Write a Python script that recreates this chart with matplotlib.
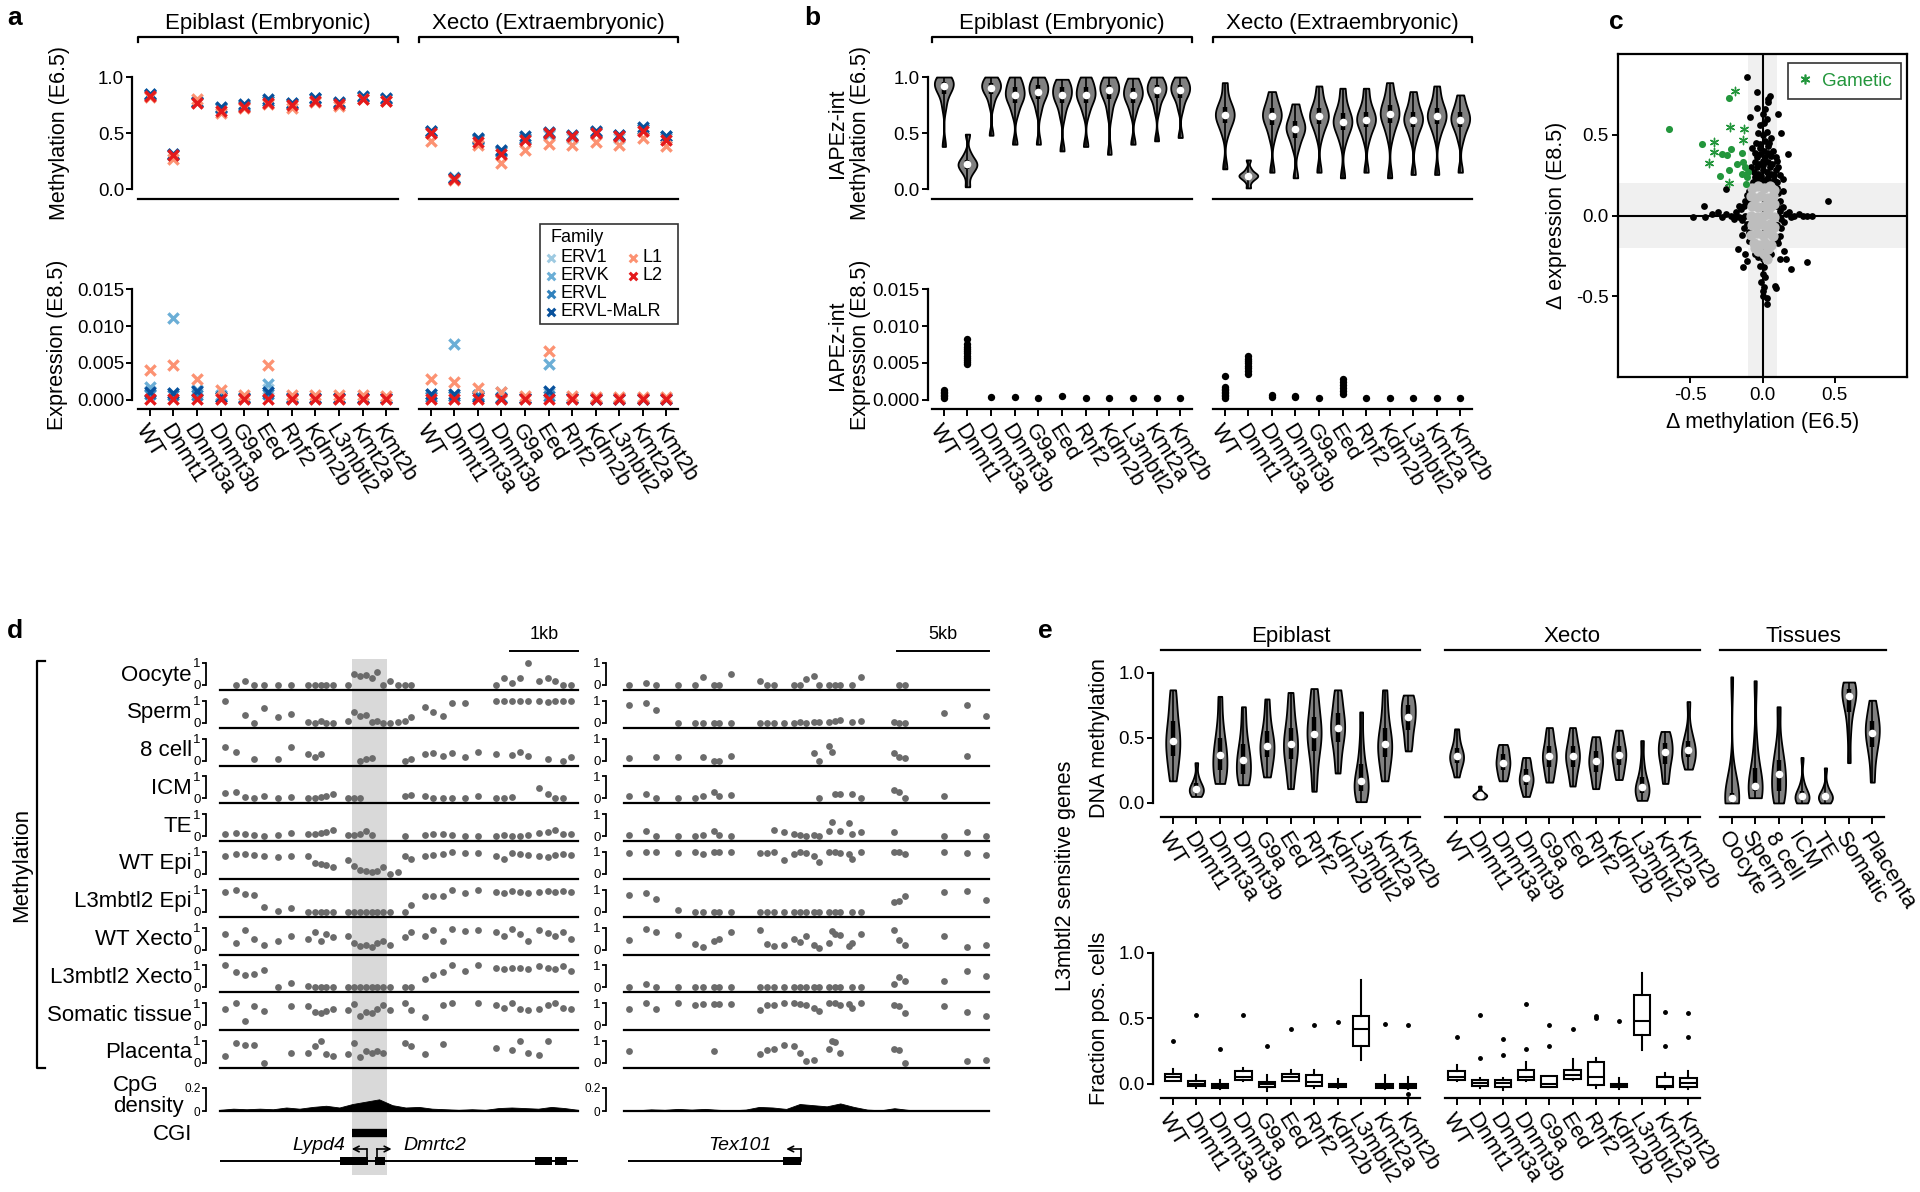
import numpy as np
import matplotlib
matplotlib.use("Agg")
import matplotlib.pyplot as plt
from matplotlib.patches import Rectangle
from matplotlib.lines import Line2D

plt.rcParams['font.family'] = ['Liberation Sans', 'DejaVu Sans']
plt.rcParams['axes.linewidth'] = 1.6
plt.rcParams['xtick.major.width'] = 1.4
plt.rcParams['ytick.major.width'] = 1.4
plt.rcParams['xtick.major.size'] = 4
plt.rcParams['ytick.major.size'] = 4
plt.rcParams['xtick.major.pad'] = 2
plt.rcParams['ytick.major.pad'] = 2

NA = np.nan

# ---------------- categories ----------------
mutants = ['WT', 'Dnmt1', 'Dnmt3a', 'Dnmt3b', 'G9a', 'Eed', 'Rnf2', 'Kdm2b', 'L3mbtl2', 'Kmt2a', 'Kmt2b']
tissues = ['Oocyte', 'Sperm', '8 cell', 'ICM', 'TE', 'Somatic', 'Placenta']

# ---------------- panel a: repeat families (Epi 11 values, then Xecto 11) ----------------
families = ['ERV1', 'ERVK', 'ERVL', 'ERVL-MaLR', 'L1', 'L2']
family_colors = ['#9ecae1', '#6baed6', '#3182bd', '#08519c', '#fc9272', '#e41a1c']

meth_ERV1 = [.84, .31, .79, .72, .75, .79, .76, .81, .77, .82, .80, .52, .11, .44, .34, .46, .48, .46, .50, .46, .54, .46]
meth_ERVK = [.85, .31, .78, .72, .75, .79, .77, .80, .77, .82, .80, .52, .10, .45, .33, .46, .49, .47, .51, .47, .54, .46]
meth_ERVL = [.84, .30, .78, .72, .74, .79, .76, .81, .77, .82, .80, .51, .10, .45, .34, .45, .50, .47, .51, .48, .54, .47]
meth_MaLR = [.85, .31, .78, .73, .76, .80, .77, .81, .78, .83, .81, .52, .10, .46, .35, .47, .51, .48, .52, .48, .55, .47]
meth_L1 = [.82, .27, .80, .68, .72, .76, .72, .78, .74, .80, .79, .43, .08, .39, .23, .35, .40, .39, .42, .39, .46, .38]
meth_L2 = [.83, .30, .77, .70, .73, .77, .75, .79, .76, .80, .79, .50, .09, .42, .31, .44, .50, .47, .50, .47, .52, .44]

expr_ERV1 = [.0012, .0009, .0010, .0005, .0003, .0015, .0003, .0002, .0002, .0002, .0002,
             .0005, .0006, .0004, .0004, .0002, .0010, .0002, .0002, .0002, .0002, .0002]
expr_ERVK = [.0018, .0111, .0013, .0007, .0004, .0021, .0004, .0003, .0003, .0003, .0003,
             .0008, .0076, .0005, .0011, .0003, .0048, .0003, .0002, .0002, .0002, .0002]
expr_ERVL = [.0008, .0007, .0007, .0004, .0002, .0008, .0002, .0002, .0002, .0002, .0002,
             .0004, .0005, .0007, .0003, .0002, .0006, .0002, .0001, .0001, .0001, .0001]
expr_MaLR = [.0011, .0010, .0012, .0004, .0002, .0011, .0002, .0002, .0002, .0002, .0002,
             .0008, .0008, .0004, .0003, .0002, .0012, .0002, .0001, .0001, .0001, .0001]
expr_L1 = [.0041, .0047, .0029, .0014, .0007, .0047, .0007, .0007, .0007, .0007, .0006,
           .0028, .0024, .0016, .0011, .0005, .0066, .0006, .0004, .0004, .0004, .0004]
expr_L2 = [.0001] * 22

# ---------------- panel b: IAPEz-int ----------------
iap_meth_epi = [
    [.38, .74, .85, .89, .92, .94, .96, .98, 1.0],
    [.02, .13, .18, .20, .22, .24, .26, .32, .49],
    [.48, .76, .85, .88, .90, .92, .95, .98, 1.0],
    [.40, .68, .77, .81, .84, .87, .91, .96, 1.0],
    [.40, .70, .80, .84, .87, .90, .93, .97, 1.0],
    [.34, .66, .77, .81, .84, .87, .91, .95, .98],
    [.38, .68, .77, .81, .84, .87, .91, .96, 1.0],
    [.31, .68, .80, .85, .88, .90, .93, .97, 1.0],
    [.40, .68, .77, .81, .84, .87, .90, .95, .99],
    [.43, .71, .81, .85, .88, .90, .93, .97, 1.0],
    [.46, .72, .81, .85, .88, .90, .93, .97, 1.0]]
iap_meth_xecto = [
    [.18, .50, .59, .63, .66, .69, .73, .80, .95],
    [.01, .07, .10, .11, .12, .13, .14, .18, .26],
    [.15, .47, .57, .62, .65, .68, .72, .78, .87],
    [.10, .37, .46, .51, .54, .57, .61, .67, .76],
    [.15, .48, .58, .62, .65, .68, .72, .80, .92],
    [.10, .43, .53, .57, .60, .63, .68, .76, .90],
    [.15, .45, .55, .59, .62, .65, .69, .77, .90],
    [.10, .48, .59, .64, .67, .70, .75, .83, .95],
    [.13, .45, .55, .59, .62, .65, .69, .77, .87],
    [.13, .48, .58, .62, .65, .68, .72, .80, .92],
    [.15, .45, .55, .59, .62, .65, .69, .75, .84]]
iap_expr_epi = [
    [.0003, .0005, .0007, .0009, .0011, .0014],
    [.0048, .0051, .0054, .0057, .0060, .0063, .0066, .0069, .0072, .0076, .0082],
    [.0004], [.0004], [.0003], [.0005], [.0003], [.0003], [.0003], [.0003], [.0003]]
iap_expr_xecto = [
    [.0003, .0005, .0007, .0009, .0011, .0013, .0015, .0017, .0032],
    [.0035, .0039, .0043, .0046, .0050, .0053, .0056, .0060],
    [.0004, .0007], [.0004, .0006], [.0003],
    [.0008, .0012, .0016, .0020, .0024, .0028],
    [.0003], [.0003], [.0003], [.0003], [.0003]]

# ---------------- panel c: delta methylation vs delta expression ----------------
c_black_x = [-0.104, -0.035, -0.04, -0.088, 0.108, 0.131, 0.177, 0.143, 0.456, 0.311, 0.196, -0.406, -0.256, -0.48,
             -0.168, -0.134, -0.106, 0.028, 0.085, 0.005, 0.12, 0.15, 0.05, 0.04, 0.035, -0.12, 0.09, 0.16,
             -0.065, -0.04, -0.01, 0.02, 0.05, 0.08, 0.10, -0.06, -0.03, 0.0, 0.03, 0.06, 0.09, 0.12,
             -0.055, -0.025, 0.005, 0.035, 0.065, 0.10, -0.05, -0.02, 0.01, 0.04, 0.07,
             -0.045, -0.015, 0.015, 0.045, -0.03, 0.0, 0.03, 0.06, -0.02, 0.01, 0.03, 0.0, 0.02,
             -0.07, 0.09, -0.08, 0.11,
             -0.055, -0.01, 0.035, 0.08, -0.04, 0.0, 0.05, -0.035, 0.02, 0.06, -0.02, 0.04,
             -0.40, -0.35, -0.31, -0.28, -0.25, -0.22, -0.20, -0.18, -0.16, -0.15, -0.14, -0.13, -0.12, -0.11,
             -0.12, -0.13, -0.11, -0.14, -0.16,
             0.11, 0.12, 0.13, 0.14, 0.15, 0.16, 0.18, 0.20, 0.22, 0.25, 0.28, 0.31, 0.34, 0.12, 0.13, 0.11,
             0.12, 0.14, 0.11,
             -0.04, -0.02, 0.0, 0.02, 0.04, -0.03, 0.0, 0.03, -0.02, 0.01, 0.0, 0.02, -0.01, 0.01, 0.0, 0.03,
             -0.05, 0.06, -0.09, -0.09, -0.09, -0.09, 0.10, 0.10, 0.10, 0.10]
c_black_y = [0.86, 0.767, 0.667, 0.61, 0.628, 0.508, 0.378, 0.229, 0.087, -0.289, -0.33, 0.06, 0.165, -0.008,
             -0.21, -0.32, -0.28, -0.55, -0.434, -0.50, -0.27, -0.22, 0.74, 0.72, 0.70, -0.24, -0.45, -0.27,
             0.21, 0.23, 0.21, 0.22, 0.21, 0.22, 0.21, 0.27, 0.26, 0.28, 0.27, 0.26, 0.28, 0.25,
             0.33, 0.32, 0.34, 0.33, 0.32, 0.34, 0.39, 0.38, 0.40, 0.39, 0.40,
             0.45, 0.44, 0.46, 0.45, 0.51, 0.50, 0.52, 0.48, 0.56, 0.57, 0.60, 0.63, 0.66,
             0.42, 0.36, 0.30, 0.30,
             0.24, 0.245, 0.24, 0.25, 0.30, 0.31, 0.30, 0.36, 0.365, 0.37, 0.42, 0.43,
             -0.01, 0.01, 0.02, -0.01, 0.01, 0.0, -0.02, 0.02, -0.01, 0.04, -0.03, 0.06, 0.0, -0.05,
             0.09, -0.08, 0.13, -0.12, 0.06,
             0.0, 0.03, -0.02, 0.05, -0.04, 0.01, 0.02, -0.01, 0.0, 0.01, 0.0, 0.0, 0.0, 0.09, -0.08, 0.14,
             -0.13, 0.15, -0.17,
             -0.21, -0.22, -0.21, -0.22, -0.21, -0.26, -0.27, -0.26, -0.31, -0.32, -0.36, -0.38, -0.41, -0.44,
             -0.47, -0.51, -0.24, -0.24, 0.15, 0.08, -0.10, -0.16, 0.17, 0.06, -0.06, -0.15]
c_grey_x = [-0.07, -0.03, 0.01, 0.05, 0.08, -0.08, -0.05, -0.01, 0.03, 0.07, -0.07, -0.03, 0.01, 0.05, 0.08,
            -0.08, -0.04, 0.0, 0.04, 0.08, -0.07, -0.03, 0.01, 0.05, 0.08, -0.08, -0.04, 0.0, 0.04, 0.07,
            -0.06, -0.02, 0.02, 0.06, -0.03, 0.01, 0.04, -0.05, 0.03]
c_grey_y = [0.17, 0.18, 0.17, 0.18, 0.16, 0.12, 0.11, 0.12, 0.11, 0.12, 0.06, 0.05, 0.06, 0.05, 0.07,
            0.0, -0.01, 0.0, 0.01, -0.01, -0.06, -0.05, -0.06, -0.05, -0.07, -0.12, -0.11, -0.12, -0.11, -0.13,
            -0.17, -0.18, -0.17, -0.18, -0.22, -0.24, -0.21, -0.20, -0.27]
c_green_dot_x = [-0.645, -0.42, -0.235, -0.28, -0.245, -0.22, -0.143, -0.175, -0.23, -0.297, -0.134, -0.122,
                 -0.14, -0.11, -0.115, -0.10]
c_green_dot_y = [0.537, 0.44, 0.73, 0.38, 0.374, 0.41, 0.39, 0.316, 0.283, 0.244, 0.333, 0.30, 0.256, 0.24,
                 0.198, 0.27]
c_gametic_x = [-0.19, -0.226, -0.129, -0.334, -0.334, -0.138, -0.369, -0.23]
c_gametic_y = [0.77, 0.545, 0.533, 0.455, 0.395, 0.467, 0.322, 0.20]

# ---------------- panel d: genome browser ----------------
track_names = ['Oocyte', 'Sperm', '8 cell', 'ICM', 'TE', 'WT Epi', 'L3mbtl2 Epi', 'WT Xecto',
               'L3mbtl2 Xecto', 'Somatic tissue', 'Placenta']
left_len_kb = 5.3
left_cpg_kb = [0.08, 0.23, 0.37, 0.51, 0.65, 0.86, 1.05, 1.30, 1.40, 1.49, 1.57, 1.68, 1.89, 1.98, 2.07, 2.16,
               2.25, 2.33, 2.42, 2.51, 2.63, 2.74, 2.83, 3.04, 3.15, 3.30, 3.44, 3.62, 3.82, 4.09, 4.20, 4.32,
               4.44, 4.56, 4.73, 4.85, 4.96, 5.08, 5.20]
left_oocyte = [NA, 0, .2, 0, 0, 0, 0, 0, 0, 0, 0, 0, 0, .5, .4, .45, .3, .6, 0, .2, 0, 0, 0, NA, NA, NA, NA, NA,
               NA, 0, .3, .1, .3, 1.0, .2, .3, .2, 0, 0]
left_sperm = [1, NA, .35, 0, .65, .25, .4, .05, 0, .1, 0, 0, .1, .5, .3, .35, .05, .1, 0, 0, .05, .1, .25, .7,
              .5, .3, .9, .9, NA, 1, 1, 1, 1, 1, 1, .95, 1, 1, 1]
left_8cell = [.6, .4, NA, .05, NA, .05, .6, .3, .15, .3, NA, NA, NA, NA, 0, .05, .1, NA, NA, NA, NA, 0, .05,
              .3, .35, .2, .35, .15, .4, .3, NA, .25, .4, .2, NA, .05, NA, 0, .15]
left_icm = [.25, .3, .05, 0, .1, 0, .05, 0, 0, .05, .1, .2, 0, 0, 0, NA, NA, NA, NA, NA, NA, .1, .15, .1, 0, 0,
            0, 0, .1, 0, 0, .05, NA, NA, .45, .2, 0, 0, NA]
left_te = [.1, .15, .1, .05, 0, .05, .15, .1, .1, .15, .2, .3, .05, .05, .1, .25, .05, NA, NA, NA, NA, 0, NA,
           .05, .1, .1, .05, 0, 0, 0, .05, 0, 0, .05, .15, .2, .3, .1, .1]
left_wt_epi = [.8, .9, .9, .85, .8, .75, .8, .8, .5, .45, .4, .3, .65, .35, .2, .15, .1, .15, .3, 0, .1, .8, .7,
               .8, .85, .9, 1, .95, .95, .8, .7, .95, .9, .85, .8, .75, .85, .9, .85]
left_l3_epi = [.9, 1, .8, .75, .2, .05, .15, 0, 0, 0, 0, 0, 0, 0, 0, 0, 0, 0, 0, 0, NA, 0, .3, .7, .7, .7, 1,
               .85, 1, .9, .85, .95, .9, .85, .9, .95, .9, .95, .9]
left_wt_xecto = [.7, .3, .9, .5, .2, .4, .6, .5, .8, .4, .7, .55, .6, .3, .15, .2, .1, .3, .4, .2, NA, .55, .8,
                 .6, .9, .4, .95, .85, .9, .8, .6, .95, .7, .4, .9, .75, .6, .8, .5]
left_l3_xecto = [1, .7, .55, .6, .8, 0, .2, .05, 0, 0, 0, 0, 0, 0, 0, 0, 0, 0, 0, 0, NA, 0, 0, .4, .55, .7, 1,
                 .75, 1, .9, .85, .9, .9, .85, .95, .9, .85, .95, .75]
left_somatic = [.75, 1, .2, .85, .65, NA, .85, .85, .6, .55, .65, .75, .7, .95, .4, .6, .55, .75, .9, .7, NA, 1,
                .7, .35, NA, .9, 1, NA, 1, .9, .8, 1, .75, .7, .75, .9, 1, .8, .75]
left_placenta = [.3, .9, .8, .8, 0, NA, .45, .45, .75, 1, .4, .3, .4, .9, .25, .55, .45, .55, .45, NA, NA, .9,
                 .75, .4, NA, .85, NA, NA, NA, .7, NA, .6, 1, .45, .35, 1, NA, NA, NA]

right_len_kb = 19.8
right_cpg_kb = [0.29, 1.20, 1.74, 2.95, 3.86, 4.28, 4.86, 5.18, 5.80, 7.39, 7.75, 8.12, 8.66, 9.20, 9.57, 9.89,
                10.29, 10.56, 11.10, 11.29, 11.47, 11.74, 12.19, 12.37, 12.86, 14.64, 14.91, 15.27, 17.36,
                18.62, 19.62]
right_oocyte = [0, .1, 0, 0, 0, .35, 0, 0, .5, .2, 0, 0, NA, 0, 0, .25, .4, 0, 0, NA, 0, 0, NA, 0, .35, NA, 0, 0,
                NA, NA, NA]
right_sperm = [.8, .9, .6, 0, 0, 0, 0, 0, 0, 0, 0, 0, 0, 0, .02, 0, .02, .02, .05, NA, .08, .12, NA, .03, .08,
               .03, 0, 0, .45, .8, .3]
right_8cell = [.1, NA, .15, .15, NA, .15, 0, 0, .2, NA, NA, NA, NA, NA, NA, NA, .35, 0, .65, .4, NA, NA, NA, NA,
               NA, .35, .15, .1, NA, .2, NA]
right_icm = [.1, .2, 0, 0, 0, .1, .3, .1, .15, NA, NA, NA, NA, NA, NA, NA, NA, 0, NA, NA, .2, .2, NA, .2, 0,
             .4, .3, 0, .1, NA, NA]
right_te = [.05, .25, 0, 0, 0, .05, .25, .05, 0, NA, NA, .3, .2, .1, .05, 0, .05, 0, .25, .65, NA, .25, .6, .1,
            .2, .2, NA, NA, 0, .2, 0]
right_wt_epi = [.95, 1, 1, .95, 1, .9, 1, 1, 1, .95, .95, 1, .65, .9, 1, .95, .8, .55, 1, NA, 1, .95, .9, .7, 1,
                1, 1, .9, 1, .95, .85]
right_l3_epi = [.75, .85, .6, .1, 0, 0, 0, 0, 0, 0, 0, 0, 0, 0, 0, 0, 0, 0, 0, NA, 0, 0, NA, 0, 0, .45, .5, .7,
                .9, .95, .55]
right_wt_xecto = [.45, .95, .8, .65, .25, .1, .4, .5, .8, .9, .25, .15, .2, .5, .35, .6, .2, .05, .3, .85, .7,
                  .65, .15, .3, .7, .9, .45, .2, .6, .1, .2]
right_l3_xecto = [0, .15, 0, 0, 0, 0, 0, 0, 0, 0, 0, 0, 0, 0, 0, 0, 0, 0, 0, NA, 0, 0, NA, 0, 0, .15, .45, .3,
                  .3, .75, .5]
right_somatic = [.75, 1, .75, 1, .9, .95, .95, .95, .95, .7, .9, .9, 1, 1, .95, .9, .8, .65, 1, NA, 1, .9, .95,
                 .8, 1, .9, .85, .55, .85, .6, .4]
right_placenta = [.55, NA, NA, NA, NA, NA, .55, NA, NA, .4, .6, .65, .8, .75, .45, .1, .15, NA, .65, 1, .95, .45,
                  NA, NA, NA, .65, .6, 0, NA, .1, .15]

left_tracks = [left_oocyte, left_sperm, left_8cell, left_icm, left_te, left_wt_epi, left_l3_epi, left_wt_xecto,
               left_l3_xecto, left_somatic, left_placenta]
right_tracks = [right_oocyte, right_sperm, right_8cell, right_icm, right_te, right_wt_epi, right_l3_epi,
                right_wt_xecto, right_l3_xecto, right_somatic, right_placenta]

left_density = [.01, .02, .015, .02, .015, .03, .02, .035, .045, .03, .06, .08, .10, .05, .03, .035, .02, .015,
                .01, .015, .01, .025, .03, .025, .02, .035, .025, .01]
right_density = [0, .006, .014, .01, .018, .012, .018, .01, .006, .012, .035, .03, .018, .06, .05, .04, .065,
                 .035, .012, .006, .024, .01, .003, 0, 0, 0, 0, 0]

highlight_kb = (1.95, 2.47)
left_exons_kb = [(1.78, 2.19), (2.30, 2.44), (4.67, 4.91), (4.96, 5.14)]
right_exons_kb = [(8.6, 9.6)]
right_gene_span_kb = (0.2, 9.6)

# ---------------- panel e: L3mbtl2 sensitive genes ----------------
e_meth_epi = [
    [.17, .28, .36, .44, .48, .54, .63, .74, .87],
    [.05, .07, .08, .10, .11, .13, .15, .20, .31],
    [.15, .20, .25, .32, .37, .42, .50, .62, .82],
    [.14, .18, .22, .29, .33, .38, .45, .57, .74],
    [.20, .28, .35, .41, .44, .48, .55, .65, .80],
    [.11, .24, .34, .41, .45, .50, .58, .70, .85],
    [.09, .28, .40, .49, .53, .58, .66, .77, .88],
    [.23, .37, .47, .54, .58, .62, .69, .78, .87],
    [.01, .05, .09, .14, .17, .21, .30, .45, .70],
    [.17, .27, .35, .42, .45, .50, .58, .70, .87],
    [.40, .48, .56, .62, .66, .70, .75, .80, .83]]
e_meth_xecto = [
    [.20, .27, .31, .34, .36, .38, .42, .48, .57],
    [.03, .04, .05, .055, .06, .065, .07, .09, .13],
    [.17, .21, .25, .29, .31, .34, .38, .42, .45],
    [.05, .10, .14, .17, .19, .22, .26, .31, .35],
    [.16, .22, .28, .33, .36, .39, .44, .51, .58],
    [.13, .22, .28, .33, .36, .39, .44, .50, .58],
    [.11, .18, .24, .29, .32, .35, .40, .46, .51],
    [.18, .24, .29, .34, .37, .40, .44, .50, .56],
    [.02, .05, .08, .10, .12, .15, .20, .30, .48],
    [.15, .23, .30, .35, .39, .42, .46, .51, .55],
    [.26, .31, .35, .38, .41, .44, .48, .56, .78]]
e_meth_tissue = [
    [.0, .01, .02, .03, .04, .05, .08, .20, .97],
    [.04, .07, .09, .11, .13, .17, .27, .45, .94],
    [.0, .04, .09, .16, .22, .27, .33, .45, .74],
    [.0, .02, .03, .04, .05, .06, .09, .15, .35],
    [.0, .02, .03, .04, .05, .06, .08, .13, .27],
    [.31, .55, .70, .78, .82, .85, .88, .91, .93],
    [.16, .33, .43, .50, .54, .58, .63, .70, .79]]

frac_epi_med = [.05, .0, -.013, .056, .0, .05, .018, -.013, .42, -.013, -.015]
frac_epi_q1 = [.026, -.013, -.03, .03, -.026, .026, -.015, -.026, .29, -.03, -.03]
frac_epi_q3 = [.077, .026, .0, .097, .018, .08, .07, .0, .52, .0, .0]
frac_epi_lo = [.02, -.03, -.035, .025, -.05, .02, -.03, -.03, .18, -.035, -.035]
frac_epi_hi = [.115, .07, .03, .12, .07, .11, .11, .04, .79, .07, .05]
frac_epi_out = [[.33], [.53], [.27], [.53], [.29], [.42], [.45], [.47], [], [.46], [.45, -.077]]

frac_xecto_med = [.05, .005, .008, .056, .0, .07, .056, -.013, .477, -.015, .005]
frac_xecto_q1 = [.03, -.018, -.02, .03, -.02, .036, -.008, -.026, .375, -.026, -.02]
frac_xecto_q3 = [.10, .03, .03, .11, .064, .11, .17, .0, .68, .056, .043]
frac_xecto_lo = [.025, -.03, -.045, .025, -.025, .03, -.03, -.038, .26, -.038, -.038]
frac_xecto_hi = [.145, .045, .045, .166, .064, .19, .20, .046, .85, .084, .10]
frac_xecto_out = [[.36], [.53, .2], [.34, .22], [.61, .27], [.45, .29], [.42], [.52, .50], [.48], [], [.55, .29],
                  [.54, .36]]

# ======================================================================
W, H = 1920, 1192
fig = plt.figure(figsize=(W / 100, H / 100), dpi=100)


def box(x0, y0, x1, y1):
    # axes placed by pixel edges measured from the top-left corner
    return fig.add_axes([x0 / W, 1 - y1 / H, (x1 - x0) / W, (y1 - y0) / H], facecolor='none')


over = box(0, 0, W, H)
over.set_xlim(0, W)
over.set_ylim(H, 0)
over.axis('off')

TICK_FS = 13.5
CAT_FS = 16
TITLE_FS = 15.5


def header(x0, x1, y, text, caps=True):
    if caps:
        over.plot([x0, x0, x1, x1], [y + 5, y, y, y + 5], color='k', lw=1.6)
    else:
        over.plot([x0, x1], [y, y], color='k', lw=1.6)
    over.text((x0 + x1) / 2, y - 8, text, ha='center', va='baseline', fontsize=16)


def set_cats(ax, labels):
    ax.set_xticks(range(len(labels)))
    ax.set_xticklabels(labels, rotation=-58, ha='left', va='top', rotation_mode='anchor', fontsize=CAT_FS)
    ax.tick_params(axis='x', length=5, pad=3)


def cat_style(ax, n, ylim, left=None, labels=None, outward=4):
    ax.set_xlim(-0.5, n - 0.5)
    ax.set_ylim(*ylim)
    ax.spines['top'].set_visible(False)
    ax.spines['right'].set_visible(False)
    if labels is None:
        ax.set_xticks([])
    else:
        set_cats(ax, labels)
    if left is None:
        ax.spines['left'].set_visible(False)
        ax.set_yticks([])
    else:
        ticks, tlabels = left
        ax.spines['left'].set_bounds(ticks[0], ticks[-1])
        ax.spines['left'].set_position(('outward', outward))
        ax.set_yticks(ticks)
        ax.set_yticklabels(tlabels, fontsize=TICK_FS)
        ax.tick_params(axis='y', length=4, pad=2)


meth_ticks = ([0, 0.5, 1.0], ['0.0', '0.5', '1.0'])
expr_ticks = ([0, 0.005, 0.010, 0.015], ['0.000', '0.005', '0.010', '0.015'])
meth_lim = (-0.089, 1.152)
expr_lim = (-0.00122, 0.0173)

# ---------------- panel a ----------------
meth_fam = [meth_ERV1, meth_ERVK, meth_ERVL, meth_MaLR, meth_L1, meth_L2]
expr_fam = [expr_ERV1, expr_ERVK, expr_ERVL, expr_MaLR, expr_L1, expr_L2]
for g, (x0, x1) in enumerate([(138, 398), (419, 678)]):
    axm = box(x0, 60, x1, 199)
    axe = box(x0, 272, x1, 409)
    cat_style(axm, 11, meth_lim, left=meth_ticks if g == 0 else None, outward=4)
    cat_style(axe, 11, expr_lim, left=expr_ticks if g == 0 else None, labels=mutants, outward=4)
    sl = slice(11 * g, 11 * g + 11)
    for vals_m, vals_e, col in zip(meth_fam, expr_fam, family_colors):
        axm.scatter(range(11), vals_m[sl], marker='x', s=55, linewidths=2.4, color=col, clip_on=False)
        axe.scatter(range(11), vals_e[sl], marker='x', s=55, linewidths=2.4, color=col, clip_on=False)
header(138, 398, 37, 'Epiblast (Embryonic)')
header(419, 678, 37, 'Xecto (Extraembryonic)')
over.text(60, 133, 'Methylation (E6.5)', rotation=90, ha='center', va='center', fontsize=TITLE_FS)
over.text(58, 345, 'Expression (E8.5)', rotation=90, ha='center', va='center', fontsize=TITLE_FS)

# legend laid out like the ggplot guide: 4 rows on the left, 2 on the right
over.add_patch(Rectangle((540, 224), 138, 100, fill=False, ec='#333333', lw=1.2))
over.text(550, 238, 'Family', ha='left', va='center', fontsize=13)
leg_pos = [(551, 258), (551, 276), (551, 294), (551, 312), (633, 258), (633, 276)]
for (lx, ly), fam, col in zip(leg_pos, families, family_colors):
    over.scatter(lx, ly, marker='x', s=30, linewidths=2.2, color=col)
    over.text(lx + 10, ly, fam, ha='left', va='center', fontsize=13)

# ---------------- panel b ----------------


def violins(ax, data, width, bw):
    parts = ax.violinplot(data, positions=range(len(data)), widths=width, showextrema=False, bw_method=bw)
    for body in parts['bodies']:
        body.set_facecolor('#808080')
        body.set_edgecolor('k')
        body.set_linewidth(1.3)
        body.set_alpha(1)
    for i, d in enumerate(data):
        q1, med, q3 = np.percentile(d, [25, 50, 75])
        ax.vlines(i, min(d), max(d), color='k', lw=1.2)
        ax.vlines(i, q1, q3, color='k', lw=3.2)
        ax.scatter(i, med, s=20, c='white', zorder=3)


for g, (x0, x1, vdata, sdata) in enumerate([(932, 1192, iap_meth_epi, iap_expr_epi),
                                             (1213, 1472, iap_meth_xecto, iap_expr_xecto)]):
    axm = box(x0, 60, x1, 199)
    axe = box(x0, 272, x1, 409)
    cat_style(axm, 11, meth_lim, left=meth_ticks if g == 0 else None, outward=3)
    cat_style(axe, 11, expr_lim, left=expr_ticks if g == 0 else None, labels=mutants, outward=3)
    violins(axm, vdata, 0.8, 0.35)
    for i, vals in enumerate(sdata):
        axe.scatter([i] * len(vals), vals, s=28, c='k', linewidths=0, clip_on=False)
header(932, 1192, 37, 'Epiblast (Embryonic)')
header(1213, 1472, 37, 'Xecto (Extraembryonic)')
over.text(849, 133, 'IAPEz-int\nMethylation (E6.5)', rotation=90, ha='center', va='center',
          multialignment='center', fontsize=TITLE_FS, linespacing=1.15)
over.text(849, 345, 'IAPEz-int\nExpression (E8.5)', rotation=90, ha='center', va='center',
          multialignment='center', fontsize=TITLE_FS, linespacing=1.15)

# ---------------- panel c ----------------
ax_c = box(1618, 54, 1907, 377)
ax_c.set_xlim(-1, 1)
ax_c.set_ylim(-1, 1)
ax_c.axvspan(-0.1, 0.1, color='#f0f0f0', lw=0, zorder=0)
ax_c.axhspan(-0.2, 0.2, color='#f0f0f0', lw=0, zorder=0)
ax_c.axhline(0, color='k', lw=1.5, zorder=1)
ax_c.axvline(0, color='k', lw=1.5, zorder=1)
ax_c.scatter(c_black_x, c_black_y, s=24, c='k', linewidths=0, zorder=2)
ax_c.scatter(c_grey_x, c_grey_y, s=55, c='#bdbdbd', linewidths=0, zorder=3)
ax_c.scatter(c_green_dot_x, c_green_dot_y, s=26, c='#23963c', linewidths=0, zorder=4)
ax_c.scatter(c_gametic_x, c_gametic_y, s=36, marker=(6, 2, 0), c='#23963c', linewidths=1.0, zorder=4)
ax_c.set_xticks([-0.5, 0, 0.5])
ax_c.set_xticklabels(['-0.5', '0.0', '0.5'], fontsize=TICK_FS)
ax_c.set_yticks([-0.5, 0, 0.5])
ax_c.set_yticklabels(['-0.5', '0.0', '0.5'], fontsize=TICK_FS)
ax_c.tick_params(length=4, pad=3)
ax_c.set_xlabel('\u0394 methylation (E6.5)', fontsize=TITLE_FS, labelpad=6)
ax_c.set_ylabel('\u0394 expression (E8.5)', fontsize=TITLE_FS, labelpad=6)
gl = ax_c.legend([Line2D([], [], ls='none', marker=(6, 2, 0), ms=7, mew=1.2, color='#23963c')], ['Gametic'],
                 loc='upper right', bbox_to_anchor=(0.98, 0.972), borderaxespad=0, fontsize=13.5,
                 labelcolor='#23963c', frameon=True, fancybox=False, edgecolor='#333333', framealpha=1,
                 handlelength=0.8, handletextpad=0.5, borderpad=0.5)
gl.get_frame().set_linewidth(1.2)

# ---------------- panel d ----------------


def bracket(ax, outward, lo, hi, labels, fs=9.5):
    for s in ['top', 'right']:
        ax.spines[s].set_visible(False)
    ax.spines['left'].set_bounds(lo, hi)
    ax.spines['left'].set_position(('outward', outward))
    ax.spines['left'].set_linewidth(1.3)
    ax.set_yticks([lo, hi])
    ax.set_yticklabels(labels, fontsize=fs)
    ax.tick_params(axis='y', length=3, width=1.3, pad=1)
    ax.set_xticks([])


regions = [(220, 578, left_len_kb, left_cpg_kb, left_tracks, 10),
           (624, 989, right_len_kb, right_cpg_kb, right_tracks, 13)]

bg = box(220, 659, 578, 1175)
bg.set_xlim(0, left_len_kb)
bg.axvspan(*highlight_kb, color='#d9d9d9', lw=0)
bg.axis('off')

base0, step = 690, 37.8
first_axes = []
for i, name in enumerate(track_names):
    yb = base0 + i * step
    for x0, x1, length, pos, tracks, outw in regions:
        ax = box(x0, yb - 33, x1, yb)
        ax.set_xlim(0, length)
        ax.set_ylim(-0.23, 1.27)
        ax.scatter(pos, tracks[i], s=24, c='#6b6b6b', linewidths=0, clip_on=False)
        bracket(ax, outw, 0, 1, ['0', '1'])
        if i == 0:
            first_axes.append(ax)
    over.text(192, yb - 15, name, ha='right', va='center', fontsize=16)

# scale bars
for ax, length, size, lab in [(first_axes[0], left_len_kb, 1.0, '1kb'), (first_axes[1], right_len_kb, 5.0, '5kb')]:
    ax.plot([length - size, length], [1.55, 1.55], color='k', lw=1.4, clip_on=False)
    ax.text(length - size / 2, 1.9, lab, ha='center', va='bottom', fontsize=13)

# CpG density
for (x0, x1, length, pos, tracks, outw), dens in zip(regions, [left_density, right_density]):
    ax = box(x0, 1083, x1, 1111)
    xs = np.linspace(0, length, len(dens))
    ax.fill_between(xs, 0, dens, color='k', lw=0.6)
    ax.set_xlim(0, length)
    ax.set_ylim(0, 0.24)
    bracket(ax, outw, 0, 0.2, ['0', '0.2'], fs=8.5)
    ax.spines['bottom'].set_linewidth(1.6)
over.text(184, 1096, 'CpG\ndensity', ha='right', va='center', multialignment='left', fontsize=16,
          linespacing=0.95)
over.text(192, 1134, 'CGI', ha='right', va='center', fontsize=16)

# genes
gl_ax = box(220, 1120, 578, 1180)
gl_ax.set_xlim(0, left_len_kb)
gl_ax.set_ylim(1180, 1120)
gl_ax.axis('off')
gl_ax.hlines(1133, *highlight_kb, color='k', lw=6)
gl_ax.hlines(1161, 0, left_len_kb, color='k', lw=1.4)
for s, e in left_exons_kb:
    gl_ax.add_patch(Rectangle((s, 1157), e - s, 8, color='k', lw=0))
for tss, d in [(2.17, -1), (2.32, 1)]:
    gl_ax.plot([tss, tss], [1161, 1149], color='k', lw=1.2)
    gl_ax.annotate('', xy=(tss + d * 0.22, 1149), xytext=(tss, 1149),
                   arrowprops=dict(arrowstyle='->', lw=1.2, color='k', shrinkA=0, shrinkB=0))
gl_ax.text(1.85, 1146, 'Lypd4', ha='right', va='center', fontsize=14, fontstyle='italic')
gl_ax.text(2.71, 1146, 'Dmrtc2', ha='left', va='center', fontsize=14, fontstyle='italic')

gr_ax = box(624, 1120, 989, 1180)
gr_ax.set_xlim(0, right_len_kb)
gr_ax.set_ylim(1180, 1120)
gr_ax.axis('off')
gr_ax.hlines(1161, *right_gene_span_kb, color='k', lw=1.4)
for s, e in right_exons_kb:
    gr_ax.add_patch(Rectangle((s, 1157), e - s, 8, color='k', lw=0))
tss = right_gene_span_kb[1]
gr_ax.plot([tss, tss], [1161, 1149], color='k', lw=1.2)
gr_ax.annotate('', xy=(tss - 0.8, 1149), xytext=(tss, 1149),
               arrowprops=dict(arrowstyle='->', lw=1.2, color='k', shrinkA=0, shrinkB=0))
gr_ax.text(8.0, 1146, 'Tex101', ha='right', va='center', fontsize=14, fontstyle='italic')

over.plot([45, 37, 37, 45], [661, 661, 1068, 1068], color='k', lw=1.6)
over.text(22, 865, 'Methylation', rotation=90, ha='center', va='center', fontsize=16)

# ---------------- panel e ----------------
v_lim = (-0.108, 1.138)
f_lim = (-0.107, 1.099)
for g, (x0, x1, data, cats) in enumerate([(1161, 1420, e_meth_epi, mutants), (1445, 1700, e_meth_xecto, mutants),
                                           (1720, 1884, e_meth_tissue, tissues)]):
    ax = box(x0, 655, x1, 817)
    cat_style(ax, len(cats), v_lim, left=meth_ticks if g == 0 else None, labels=cats, outward=6)
    violins(ax, data, 0.6, 0.5)

for g, (x0, x1, med, q1, q3, lo, hi, out) in enumerate([
        (1161, 1420, frac_epi_med, frac_epi_q1, frac_epi_q3, frac_epi_lo, frac_epi_hi, frac_epi_out),
        (1445, 1700, frac_xecto_med, frac_xecto_q1, frac_xecto_q3, frac_xecto_lo, frac_xecto_hi, frac_xecto_out)]):
    ax = box(x0, 940, x1, 1098)
    cat_style(ax, 11, f_lim, left=meth_ticks if g == 0 else None, outward=6)
    stats = [dict(med=m, q1=a, q3=b, whislo=l, whishi=h, fliers=o)
             for m, a, b, l, h, o in zip(med, q1, q3, lo, hi, out)]
    ax.bxp(stats, positions=range(11), widths=0.7, patch_artist=True, showcaps=False,
           boxprops=dict(facecolor='white', edgecolor='k', lw=1.5),
           medianprops=dict(color='k', lw=1.5), whiskerprops=dict(color='k', lw=1.5),
           flierprops=dict(marker='o', ms=2.5, mfc='k', mec='k'))
    ax.set_xlim(-0.5, 10.5)
    set_cats(ax, mutants)

header(1161, 1420, 650, 'Epiblast', caps=False)
header(1445, 1700, 650, 'Xecto', caps=False)
header(1720, 1886, 650, 'Tissues', caps=False)
over.text(1099, 738, 'DNA methylation', rotation=90, ha='center', va='center', fontsize=TITLE_FS)
over.text(1099, 1018, 'Fraction pos. cells', rotation=90, ha='center', va='center', fontsize=TITLE_FS)
over.text(1065, 876, 'L3mbtl2 sensitive genes', rotation=90, ha='center', va='center', fontsize=TITLE_FS)

# panel letters
for x, y, t in [(15, 18, 'a'), (812, 18, 'b'), (1616, 22, 'c'), (15, 631, 'd'), (1045, 631, 'e')]:
    over.text(x, y, t, ha='center', va='center', fontsize=19, fontweight='bold')

fig.savefig('out.png', dpi=100)
